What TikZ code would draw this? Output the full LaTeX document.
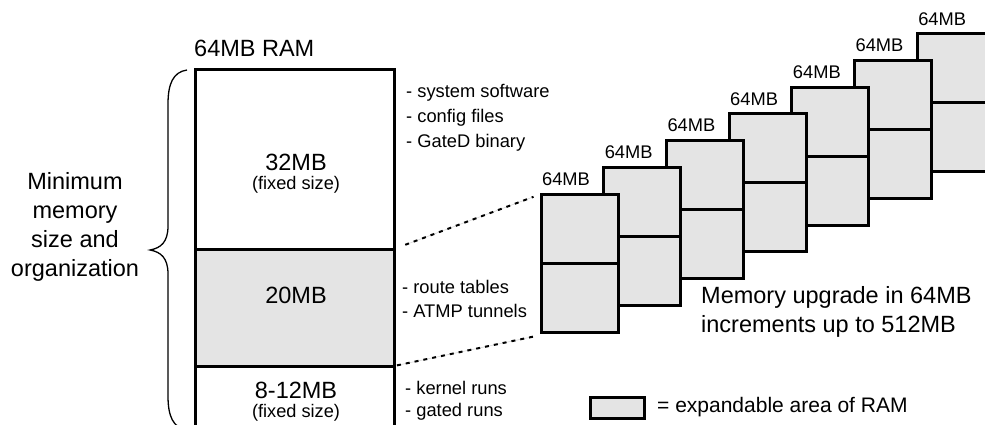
\documentclass[tikz,border=0pt]{standalone}
\usepackage{fontspec}
\setmainfont{Liberation Sans}
\usetikzlibrary{calc}
\definecolor{memgray}{HTML}{E4E4E4}
\tikzset{
  seg/.style={draw, line width=3pt, minimum width=199pt, anchor=north west, inner sep=0pt, outer sep=0pt},
  membox/.style={draw, line width=3pt, fill=memgray, minimum width=77pt, minimum height=138pt, anchor=north west, inner sep=0pt, outer sep=0pt},
  bigtxt/.style={inner sep=0pt, font=\fontsize{23.5}{29}\selectfont},
  midtxt/.style={inner sep=0pt, font=\fontsize{21}{25}\selectfont},
  smalltxt/.style={inner sep=0pt, font=\fontsize{18.3}{25}\selectfont},
  fixtxt/.style={inner sep=0pt, font=\fontsize{18.2}{22}\selectfont},
  dashconn/.style={line width=2pt, dash pattern=on 4pt off 5pt,
    preaction={draw, black!15, line width=0.6pt, solid}},
}
\begin{document}
\begin{tikzpicture}[x=1pt,y=-1pt]
\useasboundingbox (0,0) rectangle (985,425);
\clip (0,0) rectangle (985,425);

% title
\node[bigtxt, anchor=west] (title) at (194,48) {64MB RAM};

% main memory column
\node[seg, fill=white, minimum height=179pt] (topseg) at (195,70) {};
\node[seg, fill=white, minimum height=90pt] (botseg) at (195,366) {};
\node[seg, fill=memgray, minimum height=117pt] (midseg) at (195,249) {};

\node[bigtxt] (t32) at (296,162) {32MB};
\node[fixtxt] (f32) at (296,185) {(fixed size)};
\node[bigtxt] (t20) at (296,295) {20MB};
\node[bigtxt] (t8) at (296,390) {8-12MB};
\node[fixtxt] (f8) at (296,413) {(fixed size)};

% side notes
\node[smalltxt, anchor=west, align=left] (n1) at (406,118) {- system software\\- config files\\- GateD binary};
\node[smalltxt, anchor=west, align=left] (n2) at (402,299) {- route tables\\[-1pt]- ATMP tunnels};
\node[smalltxt, anchor=west, align=left] (n3) at (405,401) {- kernel runs\\[-3pt]- gated runs};

% brace and left label
\draw[line width=1.3pt] (187,70) .. controls (173,72) and (168,84) .. (168,104) -- (168,226)
  .. controls (168,242) and (161,248) .. (150,250)
  .. controls (161,252) and (168,258) .. (168,274) -- (168,396)
  .. controls (168,416) and (173,428) .. (187,430);
\node[bigtxt, align=center] (minlabel) at (75,227) {Minimum\\memory\\size and\\organization};

% expansion boxes (back to front)
\foreach \i in {6,5,...,0} {
  \pgfmathsetmacro{\bx}{541+62.7*\i}
  \pgfmathsetmacro{\by}{194-26.67*\i}
  \node[membox] (b\i) at (\bx,\by) {};
  \draw[line width=3pt] (b\i.west) -- (b\i.east);
  \node[smalltxt] (l\i) at ($(b\i.north west)+(25,-15)$) {64MB};
}

% dashed connectors
\draw[dashconn, shorten <=12pt, shorten >=8pt] (midseg.north east) -- (b0.north west);
\draw[dashconn, shorten <=3pt, shorten >=8pt] (midseg.south east) -- ($(b0.south west)+(0,3)$);

% caption
\node[bigtxt, anchor=west, align=left] (cap) at (701,311.5) {Memory upgrade in 64MB\\increments up to 512MB};

% legend
\node[draw, line width=3pt, fill=memgray, minimum width=54pt, minimum height=21pt, inner sep=0pt] (leg) at (617,407.5) {};
\node[midtxt, anchor=west] (legtxt) at (657,407) {= expandable area of RAM};
\end{tikzpicture}
\end{document}
